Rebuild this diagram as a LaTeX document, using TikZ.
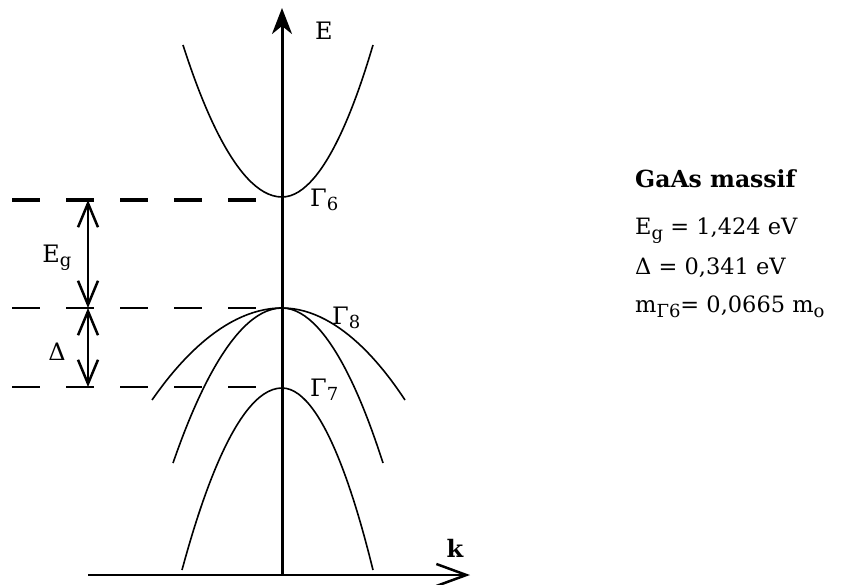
\documentclass[tikz,border=0pt]{standalone}
\usepackage{fontspec}
\setmainfont{DejaVu Serif}
\usetikzlibrary{arrows.meta}
\newcommand{\pedice}[1]{\raisebox{-0.35ex}{\fontsize{18}{20}\selectfont #1}}

\begin{document}
\begin{tikzpicture}[
    x=1pt, y=-1pt,
    line cap=butt,
    line join=round,
    every node/.style={font=\fontsize{24}{28}\selectfont, inner sep=0pt},
    band/.style={line width=1.6pt},
    livello/.style={line width=2.5pt, dash pattern=on 28pt off 26pt},
    quota/.style={line width=2.5pt, {Straight Barb[length=24pt,width=20pt]}-{Straight Barb[length=24pt,width=20pt]}},
    dato/.style={anchor=base west, font=\fontsize{22.5}{27}\selectfont}
]
\useasboundingbox (0,0) rectangle (849,585);

% Punti di riferimento
\coordinate (G6) at (282,197);
\coordinate (G8) at (282,308);
\coordinate (G7) at (282,388);
\coordinate (O) at (282,575);
\coordinate (Etop) at (282,8);
\coordinate (kstart) at (88,575);
\coordinate (kend) at (470,575);

% Livelli tratteggiati
\draw[livello, line width=3.5pt] (12,200) -- (258,200);
\draw[livello] (12,308) -- (258,308);
\draw[livello] (12,387) -- (258,387);

% Quote Eg e Delta
\coordinate (q6) at (88,200);
\coordinate (q8) at (88,308);
\coordinate (q7) at (88,387);
\draw[quota] (q6) -- (q8);
\draw[quota] (q8) -- (q7);
\node (eg) at (57,258) {E\pedice{g}};
\node (delta) at (57,352) {Δ};

% Assi
\draw[line width=3pt, -{Stealth[length=26pt,width=20pt,inset=8pt]}] (O) -- (Etop);
\draw[line width=2.5pt, -{Straight Barb[length=30pt,width=22pt]}] (kstart) -- (kend);
\node (E) at (324,31) {E};
\node (k) at (455,548) {\bfseries k};

% Bande
\draw[band] (183,45) parabola bend (G6) (373,45);
\draw[band] (152,400) parabola bend (G8) (405,400);
\draw[band] (173,463) parabola bend (G8) (383,463);
\draw[band] (182,570) parabola bend (G7) (373,570);

% Etichette Gamma
\node[anchor=west] (lG6) at (310,200) {Γ\pedice{6}};
\node[anchor=west] (lG8) at (332,318) {Γ\pedice{8}};
\node[anchor=west] (lG7) at (310,390) {Γ\pedice{7}};

% Dati
\node[dato, font=\fontsize{23.5}{28}\selectfont] (titolo) at (635,188) {\bfseries GaAs massif};
\node[dato] (gap) at (635,235) {E\pedice{g} = 1,424 eV};
\node[dato] (so) at (635,275) {Δ = 0,341 eV};
\node[dato] (massa) at (635,313) {m\pedice{Γ6}= 0,0665 m\pedice{o}};

\end{tikzpicture}
\end{document}
